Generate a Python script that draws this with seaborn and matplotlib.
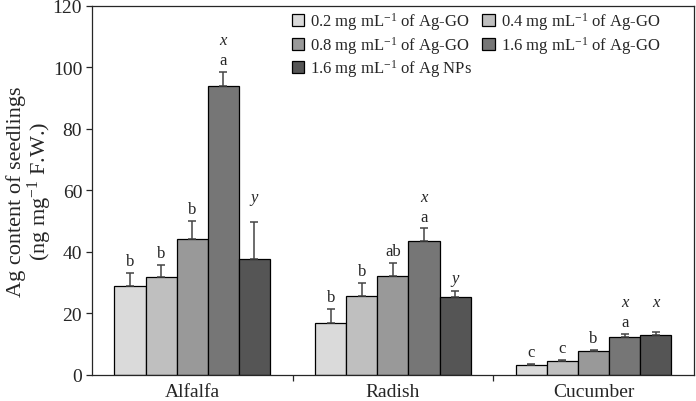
import numpy as np
import pandas as pd
import matplotlib
matplotlib.use("Agg")
import matplotlib.pyplot as plt
import seaborn as sns

# Data
crops = ["Alfalfa", "Radish", "Cucumber"]
treatments = [
    "0.2 mg mL$^{-1}$ of Ag-GO",
    "0.4 mg mL$^{-1}$ of Ag-GO",
    "0.8 mg mL$^{-1}$ of Ag-GO",
    "1.6 mg mL$^{-1}$ of Ag-GO",
    "1.6 mg mL$^{-1}$ of Ag NPs",
]
ag_02 = [29.0, 16.9, 3.1]
ag_04 = [31.8, 25.6, 4.5]
ag_08 = [44.3, 32.2, 7.8]
ag_16 = [93.8, 43.6, 12.4]
ag_nps = [37.7, 25.4, 12.9]

err_02 = [4.0, 4.5, 0.3]
err_04 = [3.9, 4.4, 0.3]
err_08 = [5.6, 4.2, 0.3]
err_16 = [4.6, 4.0, 0.8]
err_nps = [12.0, 1.9, 0.9]

# significance letters
let_02 = ["b", "b", "c"]
let_04 = ["b", "b", "c"]
let_08 = ["b", "ab", "b"]
let_16 = ["a", "a", "a"]
ital_16 = ["x", "x", "x"]
ital_nps = ["y", "y", "x"]

colors = ["#dadada", "#bfbfbf", "#999999", "#767676", "#555555"]

means = [ag_02, ag_04, ag_08, ag_16, ag_nps]
errs = [err_02, err_04, err_08, err_16, err_nps]

df = pd.DataFrame({
    "crop": np.tile(crops, len(treatments)),
    "treatment": np.repeat(treatments, len(crops)),
    "ag": np.concatenate(means),
    "err": np.concatenate(errs),
})

sns.set_style("ticks")
plt.rcParams["font.family"] = ["Liberation Serif", "DejaVu Serif"]
plt.rcParams["mathtext.fontset"] = "custom"
plt.rcParams["mathtext.rm"] = "Liberation Serif"
plt.rcParams["mathtext.it"] = "Liberation Serif:italic"

fig = plt.figure(figsize=(6.96, 4.02), dpi=100)
ax = fig.add_axes([0.132, 0.065, 0.865, 0.918])

sns.barplot(data=df, x="crop", y="ag", hue="treatment", order=crops,
            hue_order=treatments, palette=colors, width=0.775,
            edgecolor="black", linewidth=0.9, errorbar=None, ax=ax, legend=True)

# error bars (upper only) from the bar patches
bars = [p for p in ax.patches if p.get_height() > 0][:len(df)]
for i, t in enumerate(treatments):
    for j, c in enumerate(crops):
        p = bars[i * len(crops) + j]
        xc = p.get_x() + p.get_width() / 2
        ax.errorbar(xc, means[i][j], yerr=[[0], [errs[i][j]]], fmt="none",
                    ecolor="#444444", elinewidth=1.1, capsize=3, capthick=1.1)

letters = [let_02, let_04, let_08, let_16, None]
np_offsets = [18, 9, 22]
for i in range(len(treatments)):
    for j in range(len(crops)):
        p = bars[i * len(crops) + j]
        xc = p.get_x() + p.get_width() / 2
        top = means[i][j] + errs[i][j]
        if letters[i] is not None:
            ax.annotate(letters[i][j], (xc, top), xytext=(0, 8.6),
                        textcoords="offset points", ha="center", va="center",
                        fontsize=12)
        if i == 3:
            ax.annotate(ital_16[j], (xc, top), xytext=(0, 23),
                        textcoords="offset points", ha="center", va="center",
                        fontsize=12, style="italic")
        if i == 4:
            ax.annotate(ital_nps[j], (xc, top), xytext=(0, np_offsets[j]),
                        textcoords="offset points", ha="center", va="center",
                        fontsize=12, style="italic")

ax.set_ylim(0, 120)
ax.set_xlim(-0.5, 2.5)
ax.set_yticks(range(0, 121, 20))
ax.tick_params(axis="y", direction="out", length=4, labelsize=14, width=0.9, pad=3)
ax.tick_params(axis="x", which="major", length=0, labelsize=14, pad=6)
ax.set_xticks([0.5, 1.5], minor=True)
ax.tick_params(axis="x", which="minor", direction="out", length=4, width=0.9)
ax.set_xlabel("")
ax.set_ylabel("Ag content of seedlings\n(ng mg$^{-1}$ F.W.)", fontsize=16,
              linespacing=1.0, labelpad=-1)
for s in ax.spines.values():
    s.set_linewidth(0.9)

handles, labels = ax.get_legend_handles_labels()
order = [0, 2, 4, 1, 3]
ax.legend([handles[k] for k in order], [labels[k] for k in order], ncol=2,
          loc="upper right", bbox_to_anchor=(0.955, 1.006), frameon=False,
          fontsize=12, handlelength=0.75, handleheight=0.75,
          handletextpad=0.35, columnspacing=0.6, labelspacing=0.1,
          borderaxespad=0)

fig.savefig("out.png", dpi=100)
